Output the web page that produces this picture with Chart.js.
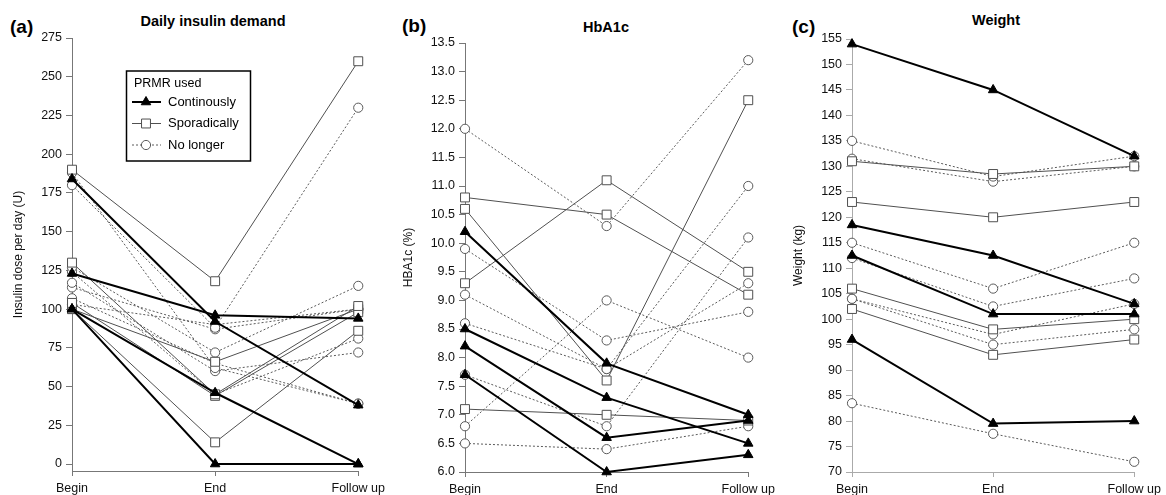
<!DOCTYPE html>
<html>
<head>
<meta charset="utf-8">
<script src="https://cdn.jsdelivr.net/npm/chart.js@4.4.0/dist/chart.umd.min.js"></script>
<style>
  body { margin: 0; background: #fff; width: 1166px; height: 495px; overflow: hidden; position: relative; font-family: Arial, "Liberation Sans", sans-serif; }
  canvas { position: absolute; top: 0; }
  .tag { position: absolute; font-weight: bold; font-size: 19px; line-height: 19px; color: #000; }
  .title { position: absolute; font-weight: bold; font-size: 14.5px; line-height: 14.5px; color: #000; transform: translateX(-50%); white-space: nowrap; }
</style>
</head>
<body>
<div class="tag" style="left:10px;top:17px">(a)</div>
<div class="title" style="left:213px;top:14px">Daily insulin demand</div>
<div class="tag" style="left:402px;top:16px">(b)</div>
<div class="title" style="left:606px;top:20px">HbA1c</div>
<div class="tag" style="left:792px;top:17px">(c)</div>
<div class="title" style="left:996px;top:13px">Weight</div>

<canvas id="insulinChart" width="390" height="495" style="left:0px"></canvas>
<canvas id="hba1cChart" width="390" height="495" style="left:390px"></canvas>
<canvas id="weightChart" width="386" height="495" style="left:780px"></canvas>

<script>
const timepoints = ["Begin", "End", "Follow up"];
const groupLabels = ["Continously", "Sporadically", "No longer"];

// insulin dose per day (U): one row per patient = [Begin, End, Follow up]
const insulinContinuous = [[184, 92, 38], [123, 96, 94], [100, 46, 0], [100, 0, 0]];
const insulinSporadic = [[190, 118, 260], [130, 45, 102], [104, 44, 98], [100, 66, 100], [100, 14, 86]];
const insulinNoLonger = [[188, 62, 39], [180, 88, 230], [127, 72, 115], [124, 45, 81],
                         [117, 60, 72], [114, 87, 100], [107, 65, 39], [103, 90, 100]];
const insulinTicks = [0, 25, 50, 75, 100, 125, 150, 175, 200, 225, 250, 275];

// HbA1c (%)
const hba1cContinuous = [[10.2, 7.9, 7.0], [8.5, 7.3, 6.5], [8.2, 6.6, 6.9], [7.7, 6.0, 6.3]];
const hba1cSporadic = [[10.8, 10.5, 9.1], [9.3, 11.1, 9.5], [10.6, 7.6, 12.5], [7.1, 7.0, 6.9]];
const hba1cNoLonger = [[12.0, 10.3, 13.2], [9.9, 8.3, 8.8], [9.1, 7.8, 11.0], [8.6, 7.8, 9.3],
                       [6.8, 9.0, 8.0], [7.7, 6.8, 10.1], [6.5, 6.4, 6.8]];
const hba1cTicks = [6.0, 6.5, 7.0, 7.5, 8.0, 8.5, 9.0, 9.5, 10.0, 10.5, 11.0, 11.5, 12.0, 12.5, 13.0, 13.5];

// weight (kg)
const weightContinuous = [[154, 145, 132], [118.5, 112.5, 103], [112.5, 101, 101], [96, 79.5, 80]];
const weightSporadic = [[131, 128.5, 130], [123, 120, 123], [106, 98, 100], [102, 93, 96]];
const weightNoLonger = [[135, 128, 132], [131.5, 127, 130], [115, 106, 115], [112, 102.5, 108],
                        [104, 97, 103], [104, 95, 98], [83.5, 77.5, 72]];
const weightTicks = [70, 75, 80, 85, 90, 95, 100, 105, 110, 115, 120, 125, 130, 135, 140, 145, 150, 155];


const FONT = 'Arial, "Liberation Sans", sans-serif';

const groupStyles = [
    { pointStyle: "triangle", radius: 5.5, line: "#000", lineWidth: 2, dash: [], pointBorder: "#000", pointFill: "#000" },
    { pointStyle: "rect", radius: 6.3, line: "#505050", lineWidth: 1, dash: [], pointBorder: "#505050", pointFill: "#fff" },
    { pointStyle: "circle", radius: 4.6, line: "#5a5a5a", lineWidth: 1, dash: [2, 2], pointBorder: "#5a5a5a", pointFill: "#fff" }
];


function buildDatasets(groups) {
    const sets = [];
    groups.forEach((rows, g) => {
        const st = groupStyles[g];
        rows.forEach(row => {
            sets.push({
                label: groupLabels[g],
                data: row,
                borderColor: st.line,
                borderWidth: st.lineWidth,
                borderDash: st.dash,
                pointStyle: st.pointStyle,
                pointRadius: st.radius,
                pointBackgroundColor: st.pointFill,
                pointBorderColor: st.pointBorder,
                pointBorderWidth: 1,
                tension: 0,
                fill: false,
                clip: false
            });
        });
    });
    return sets;
}


const legendBox = {
    id: "legendBox",
    afterDraw(chart) {
        const ctx = chart.ctx;
        ctx.save();
        ctx.strokeStyle = "#000";
        ctx.lineWidth = 1.5;
        ctx.setLineDash([]);
        ctx.strokeRect(126.5, 71, 124, 90);
        ctx.fillStyle = "#000";
        ctx.textBaseline = "middle";
        ctx.font = "12.5px " + FONT;
        ctx.fillText("PRMR used", 134, 84);
        groupLabels.forEach((label, i) => {
            const st = groupStyles[i];
            const y = 102 + i * 21.5;
            ctx.beginPath();
            ctx.strokeStyle = st.line;
            ctx.lineWidth = st.lineWidth;
            ctx.setLineDash(st.dash);
            ctx.moveTo(132, y);
            ctx.lineTo(161, y);
            ctx.stroke();
            ctx.setLineDash([]);
            ctx.fillStyle = st.pointFill;
            ctx.strokeStyle = st.pointBorder;
            ctx.lineWidth = 1;
            Chart.helpers.drawPoint(ctx, { pointStyle: st.pointStyle, radius: st.radius, borderWidth: 1, rotation: 0 }, 146, y);
            ctx.fillStyle = "#000";
            ctx.font = "13px " + FONT;
            ctx.fillText(label, 168, y);
        });
        ctx.restore();
    }
};


function makePanel(id, cfg) {
    const ctx = document.getElementById(id).getContext("2d");
    return new Chart(ctx, {
        type: "line",
        data: {
            labels: timepoints,
            datasets: buildDatasets(cfg.groups)
        },
        options: {
            responsive: false,
            animation: false,
            layout: { padding: { top: cfg.top, right: cfg.right, left: 0, bottom: 0 } },
            plugins: {
                legend: { display: false },
                tooltip: { enabled: false }
            },
            scales: {
                x: {
                    type: "category",
                    offset: false,
                    grid: { display: true, drawOnChartArea: false, drawTicks: true, tickLength: 5, color: cfg.axisColor },
                    border: { display: true, color: cfg.axisColor, width: 1 },
                    ticks: { color: "#111", font: { family: FONT, size: 12.5 }, padding: 5, maxRotation: 0, autoSkip: false },
                    afterFit(scale) { scale.height = cfg.xHeight; }
                },
                y: {
                    min: cfg.min,
                    max: cfg.max,
                    grid: { display: true, drawOnChartArea: false, drawTicks: true, tickLength: 6, color: cfg.axisColor },
                    border: { display: true, color: cfg.axisColor, width: 1 },
                    ticks: {
                        color: "#111",
                        font: { family: FONT, size: 12.5 },
                        padding: 4,
                        callback: cfg.format
                    },
                    title: {
                        display: true,
                        text: cfg.yTitle,
                        color: "#111",
                        font: { family: FONT, size: 12 },
                        padding: { top: 11, bottom: 0 }
                    },
                    afterBuildTicks(scale) { scale.ticks = cfg.ticks.map(v => ({ value: v })); },
                    afterFit(scale) { scale.width = cfg.yWidth; }
                }
            }
        },
        plugins: cfg.extra || []
    });
}


document.addEventListener("DOMContentLoaded", function() {
    makePanel("insulinChart", {
        groups: [insulinContinuous, insulinSporadic, insulinNoLonger],
        ticks: insulinTicks, min: -4.5, max: 275,
        format: v => String(v),
        yTitle: "Insulin dose per day (U)",
        top: 38, right: 31, xHeight: 24, yWidth: 72,
        axisColor: "#777",
        extra: [legendBox]
    });
    makePanel("hba1cChart", {
        groups: [hba1cContinuous, hba1cSporadic, hba1cNoLonger],
        ticks: hba1cTicks, min: 6, max: 13.5,
        format: v => Number(v).toFixed(1),
        yTitle: "HBA1c (%)",
        top: 43, right: 31, xHeight: 23, yWidth: 75,
        axisColor: "#777"
    });
    makePanel("weightChart", {
        groups: [weightContinuous, weightSporadic, weightNoLonger],
        ticks: weightTicks, min: 70, max: 155,
        format: v => String(v),
        yTitle: "Weight (kg)",
        top: 39, right: 27, xHeight: 23, yWidth: 72,
        axisColor: "#aaa"
    });
});
</script>
</body>
</html>
